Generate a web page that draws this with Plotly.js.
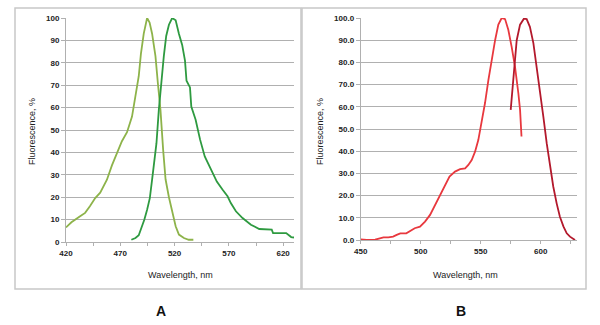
<!DOCTYPE html>
<html>
<head>
<meta charset="utf-8">
<script src="https://cdn.plot.ly/plotly-3.0.1.min.js"></script>
<style>html,body{margin:0;padding:0;background:#fff;}#chart{width:600px;height:325px;}</style>
</head>
<body>
<div id="chart"></div>
<script>
// Panel A: green fluorescent protein spectra
const aExcX = [420,425,433,437.6,442,446.9,451.5,457.7,462.3,467,471.5,476.2,480.8,483.9,487,489,491.6,494.7,497,499.3,502.4,504.6,507,509.5,511.7,514.8,517.8,521,524,528.6,533,537.3];
const aExcY = [6.5,8.8,11.5,13,16,19.6,22,27.8,34.2,39.7,45,49,56,65,74,84,93,100,98,93,83,71,59,41,28,20,13,7,3.3,1.8,1,1];
const aEmX = [480.2,484,487,489,492.2,494.7,497.2,499.3,501.5,503.3,505.5,507.7,510.1,512.3,514.8,517.8,521,524,527,529.6,531,534.2,535.4,539.4,543.5,547.8,553.3,558.9,564.1,568.8,571.8,576.5,582.6,590.3,598,602.7,609.5,610.7,622.8,627.4,630];
const aEmY = [1,1.8,3,5.5,10,14.4,19.6,27.8,36.8,44,59,71,83,92,97,100,99,93,88,81,72,69,60.5,54.6,45.7,38.2,32.3,27,23.4,20.4,17.4,13.7,10.7,7.7,5.8,5.8,5.5,4,4,2.2,2];

// Panel B: red fluorescent protein spectra
const bExcX = [450,455,462,466,469,473,477,480,483,488,492.5,495,499.4,503.6,507.8,512,516,520.3,524,528.6,532.8,537,539.7,542.5,545.3,548,550.8,553.6,556.4,559,562,564.7,567.5,570.3,573,575.8,578.6,581.4,582.8,584];
const bExcY = [0.3,0,0.15,0.6,1.2,1.2,1.5,2.3,3,3,4.5,5.3,6,8.3,11.3,15.8,20.3,24.8,28.6,30.8,31.9,32.3,33.8,36,39.8,45,52.6,61.7,72,81,90,97,100,99.5,94.7,87,78,66,58.6,46.6];
const bEmX = [575,576.4,578,580,582.8,586,588.3,591,593.9,596.7,599.4,602.2,605,607.8,610.5,613.3,616,619,621.7,624.4,628.6];
const bEmY = [58.6,67.7,79.7,90,97,99.7,99.5,96,88.7,78.2,66,55.6,43.6,33,24,16.5,10.5,6,3,1.5,0];

const aTickVals = [420,445,470,495,520,545,570,595,620];
const aTickText = ['420','','470','','520','','570','','620'];
const bTickVals = [450,475,500,525,550,575,600,625];
const bTickText = ['450','','500','','550','','600',''];
const yTickVals = [0,10,20,30,40,50,60,70,80,90,100];

const xTitle = 'Wavelength, nm';
const yTitle = 'Fluorescence, %';
const panelLabels = ['A','B'];

const tickFont = {family:'Liberation Sans, Arial, sans-serif', size:8, color:'#222', weight:'bold'};
const titleFont = {family:'Liberation Sans, Arial, sans-serif', size:9, color:'#222'};
const W = 600, H = 325;
const px = x => x / W;
const py = y => 1 - y / H;

const traces = [
  {x:aExcX, y:aExcY, xaxis:'x', yaxis:'y', mode:'lines', line:{color:'#8db34a', width:1.8}, hoverinfo:'skip'},
  {x:aEmX, y:aEmY, xaxis:'x', yaxis:'y', mode:'lines', line:{color:'#2e9a40', width:1.8}, hoverinfo:'skip'},
  {x:bExcX, y:bExcY, xaxis:'x2', yaxis:'y2', mode:'lines', line:{color:'#e8383e', width:1.8}, hoverinfo:'skip'},
  {x:bEmX, y:bEmY, xaxis:'x2', yaxis:'y2', mode:'lines', line:{color:'#b3192c', width:1.8}, hoverinfo:'skip'}
];

const xCommon = {showgrid:false, zeroline:false, showline:true, linecolor:'#b0b0b0', linewidth:1,
  ticks:'outside', ticklen:3, tickcolor:'#b0b0b0', tickfont:tickFont, tickmode:'array', fixedrange:true};
const yCommon = {showgrid:true, gridcolor:'#b0b0b0', gridwidth:1, zeroline:false, showline:true, linecolor:'#b0b0b0',
  linewidth:1, ticks:'outside', ticklen:4, tickcolor:'#b0b0b0', tickfont:tickFont, range:[0,100],
  tickmode:'array', tickvals:yTickVals, fixedrange:true};

const layout = {
  width:W, height:H, margin:{l:0,r:0,t:0,b:0}, paper_bgcolor:'#fff', plot_bgcolor:'#fff', showlegend:false,
  xaxis: Object.assign({}, xCommon, {domain:[px(66), px(294)], range:[420,630], tickvals:aTickVals, ticktext:aTickText, anchor:'y'}),
  yaxis: Object.assign({}, yCommon, {domain:[py(242), py(18)], anchor:'x', ticktext:yTickVals.map(v=>String(v))}),
  xaxis2: Object.assign({}, xCommon, {domain:[px(360.7), px(576.7)], range:[450,630], tickvals:bTickVals, ticktext:bTickText, anchor:'y2'}),
  yaxis2: Object.assign({}, yCommon, {domain:[py(240), py(18)], anchor:'x2', ticktext:yTickVals.map(v=>v.toFixed(1))}),
  shapes: [
    {type:'rect', xref:'paper', yref:'paper', x0:px(15), x1:px(301), y0:py(289), y1:py(8), line:{color:'#c8c8c8', width:1.5}},
    {type:'rect', xref:'paper', yref:'paper', x0:px(302), x1:px(586), y0:py(289), y1:py(8), line:{color:'#c8c8c8', width:1.5}}
  ],
  annotations: [
    {xref:'paper', yref:'paper', x:px(180), y:py(275), text:xTitle, showarrow:false, font:titleFont, xanchor:'center', yanchor:'middle'},
    {xref:'paper', yref:'paper', x:px(466), y:py(275), text:xTitle, showarrow:false, font:titleFont, xanchor:'center', yanchor:'middle'},
    {xref:'paper', yref:'paper', x:px(32), y:py(132), text:yTitle, showarrow:false, font:titleFont, textangle:-90, xanchor:'center', yanchor:'middle'},
    {xref:'paper', yref:'paper', x:px(320), y:py(132), text:yTitle, showarrow:false, font:titleFont, textangle:-90, xanchor:'center', yanchor:'middle'},
    {xref:'paper', yref:'paper', x:px(161), y:py(311), text:panelLabels[0], showarrow:false, font:{family:'Liberation Sans, Arial, sans-serif', size:14, color:'#111', weight:'bold'}, xanchor:'center', yanchor:'middle'},
    {xref:'paper', yref:'paper', x:px(461), y:py(311), text:panelLabels[1], showarrow:false, font:{family:'Liberation Sans, Arial, sans-serif', size:14, color:'#111', weight:'bold'}, xanchor:'center', yanchor:'middle'}
  ]
};

Plotly.newPlot('chart', traces, layout, {displayModeBar:false, staticPlot:true});
</script>
</body>
</html>
